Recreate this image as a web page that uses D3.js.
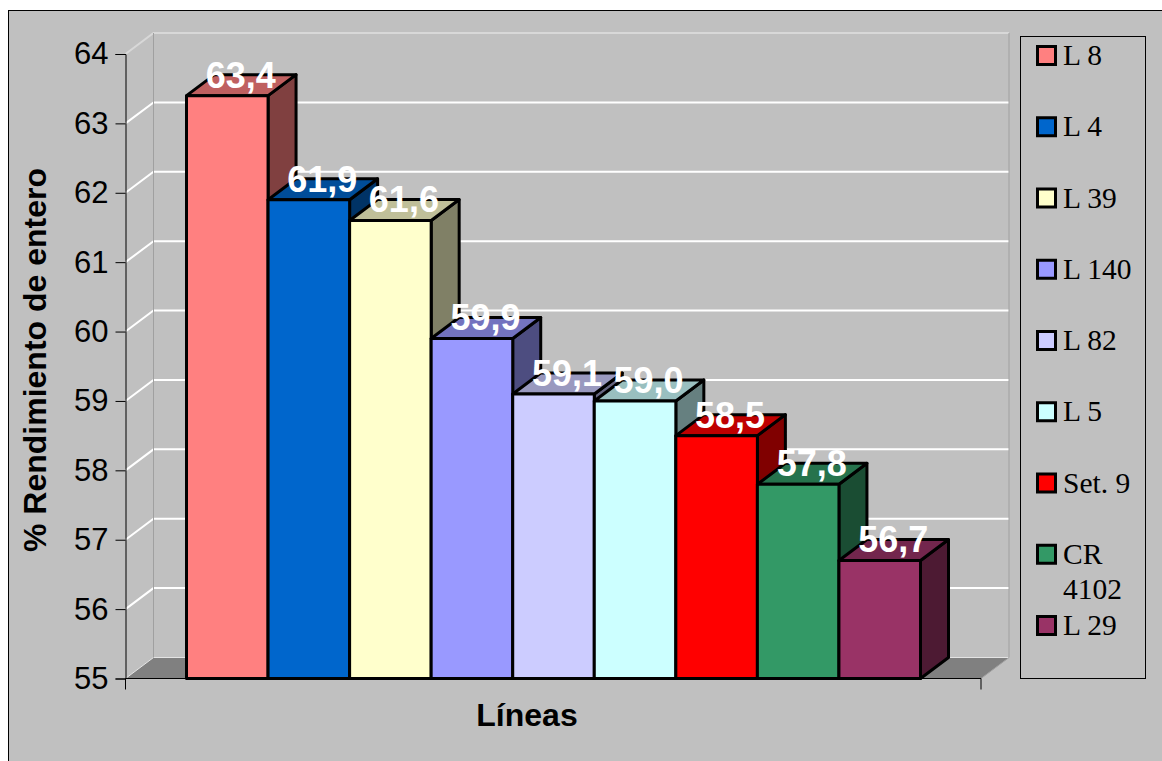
<!DOCTYPE html>
<html>
<head>
<meta charset="utf-8">
<style>
  html, body { margin: 0; padding: 0; background: #fff; }
  svg { display: block; }
  .sans { font-family: "Liberation Sans", Arial, sans-serif; }
  .serif { font-family: "Liberation Serif", "Times New Roman", serif; }
</style>
<script src="https://cdnjs.cloudflare.com/ajax/libs/d3/7.8.5/d3.min.js"></script>
</head>
<body>
<svg id="chart" width="1162" height="761"></svg>
<script>
var lines = ["L 8", "L 4", "L 39", "L 140", "L 82", "L 5", "Set. 9", "CR 4102", "L 29"];
var yields = [63.4, 61.9, 61.6, 59.9, 59.1, 59.0, 58.5, 57.8, 56.7];
var colors = ["#FF8080", "#0066CC", "#FFFFCC", "#9999FF", "#CCCCFF", "#CCFFFF", "#FF0000", "#339966", "#993366"];
var yTicks = [55, 56, 57, 58, 59, 60, 61, 62, 63, 64];

var DEPTH_X = 28;
var DEPTH_Y = -21;
var LEFT = 125.5;
var RIGHT = 981;

const svg = d3.select("#chart");

var y = d3.scaleLinear().domain([55, 64]).range([678.5, 54]);
var x = d3.scaleBand().domain(lines).range([186.5, 920.5]);
var legendY = d3.scalePoint().domain(lines).range([56, 626]);

function shade(c, k) {
  var rgb = d3.rgb(c);
  return d3.rgb(rgb.r * k, rgb.g * k, rgb.b * k).formatHex();
}

// chart area
svg.append("rect").attr("x", 8.5).attr("y", 10.5).attr("width", 1170).attr("height", 770)
  .attr("fill", "#C0C0C0").attr("stroke", "#000").attr("stroke-width", 1);

// -------- walls ---------------------------------------------------------
var backX = LEFT + DEPTH_X;
var backRight = RIGHT + DEPTH_X;
var backTop = y(64) + DEPTH_Y;
var backBottom = y(55) + DEPTH_Y;

// floor
svg.append("path")
  .attr("d", d3.line()([[LEFT, y(55)], [backX, backBottom], [backRight, backBottom], [RIGHT, y(55)]]) + "Z")
  .attr("fill", "#808080");
svg.append("path")
  .attr("d", d3.line()([[LEFT, y(55)], [backX, backBottom], [backRight, backBottom]]))
  .attr("fill", "none").attr("stroke", "#E4E4E4").attr("stroke-width", 1);
svg.append("path")
  .attr("d", d3.line()([[backRight, backBottom], [RIGHT, y(55)]]))
  .attr("fill", "none").attr("stroke", "#A0A0A0").attr("stroke-width", 1);

// gridlines
svg.append("g").selectAll("path")
  .data(yTicks.filter(d => d > 55 && d < 64))
  .enter().append("path")
  .attr("d", d => d3.line()([[LEFT, y(d)], [backX, y(d) + DEPTH_Y], [backRight, y(d) + DEPTH_Y]]))
  .attr("fill", "none").attr("stroke", "#fff").attr("stroke-width", 2);

// top of the wall, lighter than the gridlines
svg.append("path")
  .attr("d", d3.line()([[LEFT, y(64)], [backX, backTop], [backRight, backTop]]))
  .attr("fill", "none").attr("stroke", "#D8D8D8").attr("stroke-width", 2);

// wall edges
svg.append("path")
  .attr("d", d3.line()([[backX, backTop], [backX, backBottom]]))
  .attr("stroke", "#A0A0A0").attr("stroke-width", 1);
svg.append("path")
  .attr("d", d3.line()([[backRight, backTop], [backRight, backBottom]]))
  .attr("stroke", "#A0A0A0").attr("stroke-width", 1);

// -------- axes ----------------------------------------------------------
var yAxis = d3.axisLeft(y).tickValues(yTicks).tickSize(10).tickPadding(7).tickFormat(d3.format("d"));
var gy = svg.append("g").attr("transform", "translate(" + LEFT + ",0)").call(yAxis);
gy.select(".domain").attr("stroke", "#000");
gy.selectAll("line").attr("stroke", "#000");
gy.selectAll("text").attr("class", "sans").attr("font-size", 31).attr("fill", "#000");

svg.append("path")
  .attr("d", d3.line()([[LEFT, y(55)], [RIGHT, y(55)], [RIGHT, y(55) + 11]]))
  .attr("fill", "none").attr("stroke", "#000").attr("stroke-width", 1);
svg.append("path")
  .attr("d", d3.line()([[LEFT, y(55)], [LEFT, y(55) + 11]]))
  .attr("fill", "none").attr("stroke", "#000").attr("stroke-width", 1);

// -------- bars ----------------------------------------------------------
var bars = svg.append("g").selectAll("g")
  .data(lines)
  .enter().append("g")
  .attr("stroke", "#000").attr("stroke-width", 3).attr("stroke-linejoin", "round");

bars.append("path")
  .attr("fill", (d, i) => shade(colors[i], 0.5))
  .attr("d", function (d, i) {
    var r = x(d) + x.bandwidth(), t = y(yields[i]), b = y(55);
    return d3.line()([[r, t], [r + DEPTH_X, t + DEPTH_Y], [r + DEPTH_X, b + DEPTH_Y], [r, b]]) + "Z";
  });

bars.append("path")
  .attr("fill", (d, i) => shade(colors[i], 0.75))
  .attr("d", function (d, i) {
    var l = x(d), r = l + x.bandwidth(), t = y(yields[i]);
    return d3.line()([[l, t], [l + DEPTH_X, t + DEPTH_Y], [r + DEPTH_X, t + DEPTH_Y], [r, t]]) + "Z";
  });

bars.append("rect")
  .attr("x", d => x(d))
  .attr("y", (d, i) => y(yields[i]))
  .attr("width", x.bandwidth())
  .attr("height", (d, i) => y(55) - y(yields[i]))
  .attr("fill", (d, i) => colors[i]);

// value labels sit above all the bars
svg.append("g").selectAll("text")
  .data(lines)
  .enter().append("text")
  .attr("class", "sans")
  .attr("x", d => x(d) + x.bandwidth() / 2 + DEPTH_X / 2 - 0.5)
  .attr("y", (d, i) => y(yields[i]) + DEPTH_Y)
  .attr("dy", "0.36em")
  .attr("text-anchor", "middle")
  .attr("font-size", 36).attr("font-weight", "bold").attr("fill", "#fff")
  .text((d, i) => d3.format(".1f")(yields[i]).replace(".", ","));

// -------- axis titles ---------------------------------------------------
svg.append("text").attr("class", "sans")
  .attr("transform", "translate(46,360) rotate(-90)")
  .attr("text-anchor", "middle")
  .attr("font-size", 32).attr("font-weight", "bold")
  .text("% Rendimiento de entero");

svg.append("text").attr("class", "sans")
  .attr("x", 527).attr("y", 726)
  .attr("text-anchor", "middle")
  .attr("font-size", 32).attr("font-weight", "bold")
  .text("Líneas");

// -------- legend --------------------------------------------------------
svg.append("rect").attr("x", 1020.5).attr("y", 36.5).attr("width", 125).attr("height", 642)
  .attr("fill", "#C0C0C0").attr("stroke", "#000").attr("stroke-width", 1);

var legend = svg.append("g").selectAll("g")
  .data(lines)
  .enter().append("g")
  .attr("transform", d => "translate(0," + legendY(d) + ")");

legend.append("rect")
  .attr("x", 1037.5).attr("y", -9.5).attr("width", 18).attr("height", 18)
  .attr("fill", (d, i) => colors[i])
  .attr("stroke", "#000").attr("stroke-width", 3);

legend.append("text")
  .attr("class", "serif")
  .attr("x", 1063).attr("y", 9)
  .attr("font-size", 29.5).attr("fill", "#000")
  .each(function (d) {
    // CR 4102 wraps on two rows
    var el = d3.select(this);
    if (d === "CR 4102") {
      el.append("tspan").attr("x", 1063).text("CR");
      el.append("tspan").attr("x", 1063).attr("dy", 35).text("4102");
    } else {
      el.text(d);
    }
  });
</script>
</body>
</html>
